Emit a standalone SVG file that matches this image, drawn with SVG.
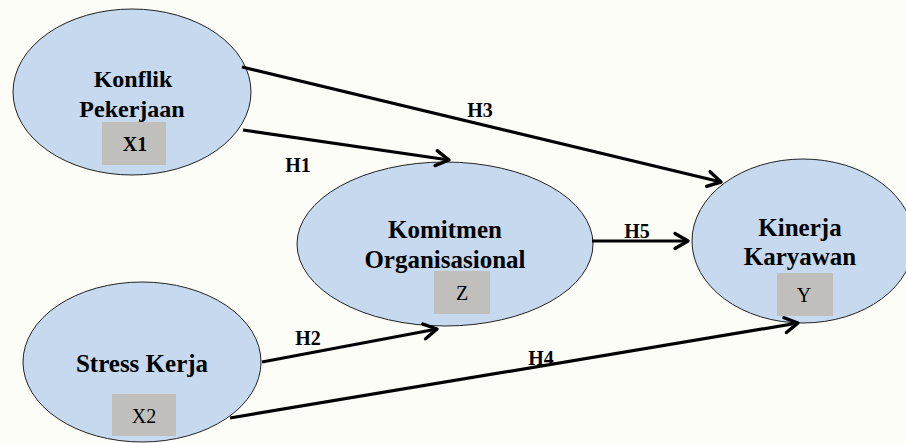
<svg xmlns="http://www.w3.org/2000/svg" width="906" height="443" viewBox="0 0 906 443">
<style>
.node ellipse{fill:#c6d9ef;stroke:#222;stroke-width:1}
.box{fill:#c0bfbb}
.t{font-family:"Liberation Serif","Times New Roman",serif;font-weight:bold;font-size:24px;fill:#000;text-anchor:middle}
.c{font-family:"Liberation Serif","Times New Roman",serif;font-size:20px;fill:#000;text-anchor:middle}
.cb{font-weight:bold}
.h{font-family:"Liberation Serif","Times New Roman",serif;font-weight:bold;font-size:20px;fill:#000;text-anchor:middle}
.edge{stroke:#000;stroke-width:3.2;fill:none;marker-end:url(#arr)}
</style>
<defs>
<marker id="arr" markerUnits="userSpaceOnUse" markerWidth="24" markerHeight="24" viewBox="-16 -12 20 24" refX="0" refY="0" orient="auto">
<path d="M-13,-7.5 L0,0 L-13,7.5" fill="none" stroke="#000" stroke-width="3.4" stroke-linejoin="round" stroke-linecap="round"/>
</marker>
</defs>
<rect width="906" height="443" fill="#fdfdf7"/>
<g id="node-x1" class="node">
<ellipse cx="132" cy="92" rx="119" ry="83"/>
<text class="t" x="133" y="87">Konflik</text>
<text class="t" x="132" y="117">Pekerjaan</text>
<rect class="box" x="102" y="122" width="64" height="43"/>
<text class="c cb" x="135" y="151">X1</text>
</g>
<g id="node-x2" class="node">
<ellipse cx="142" cy="362" rx="119" ry="80"/>
<text class="t" x="142" y="372" style="font-size:25px">Stress Kerja</text>
<rect class="box" x="112" y="394" width="64" height="42"/>
<text class="c" x="144" y="423">X2</text>
</g>
<g id="node-z" class="node">
<ellipse cx="445" cy="244" rx="148" ry="82"/>
<text class="t" x="445" y="238" style="font-size:25px">Komitmen</text>
<text class="t" x="445" y="268" style="font-size:25px">Organisasional</text>
<rect class="box" x="434" y="271" width="56" height="43"/>
<text class="c" x="462" y="300">Z</text>
</g>
<g id="node-y" class="node">
<ellipse cx="803" cy="241" rx="111" ry="82"/>
<text class="t" x="800" y="236" style="font-size:25px">Kinerja</text>
<text class="t" x="800" y="265" style="font-size:25px">Karyawan</text>
<rect class="box" x="777" y="273" width="56" height="43"/>
<text class="c" x="804" y="302">Y</text>
</g>
<g id="connectors">
<line class="edge" x1="242" y1="67" x2="721" y2="182"/>
<line class="edge" x1="243" y1="130" x2="449" y2="160"/>
<line class="edge" x1="592" y1="241" x2="688" y2="241"/>
<line class="edge" x1="262" y1="362" x2="437" y2="329"/>
<line class="edge" x1="230" y1="418" x2="798" y2="323"/>
<text class="h" x="480" y="117">H3</text>
<text class="h" x="298" y="172">H1</text>
<text class="h" x="637" y="238">H5</text>
<text class="h" x="308" y="345">H2</text>
<text class="h" x="541" y="365">H4</text>
</g>
</svg>
